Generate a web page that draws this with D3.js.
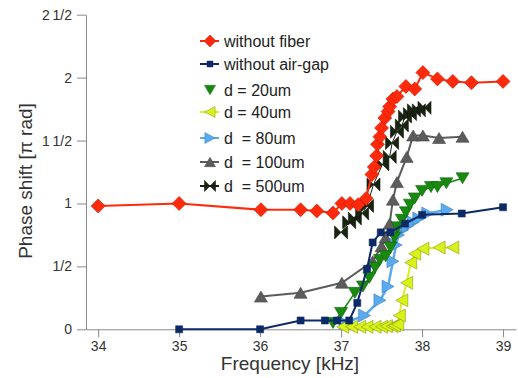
<!DOCTYPE html>
<html>
<head>
<meta charset="utf-8">
<script src="https://cdn.jsdelivr.net/npm/d3@7/dist/d3.min.js"></script>
<style>
  body { margin: 0; background: #fff; }
  svg { font-family: "Liberation Sans", Arial, sans-serif; }
  .axis path, .axis line { stroke: #8a8a8a; }
  .axis text { fill: #333; font-size: 14px; }
</style>
</head>
<body>
<div id="chart"></div>
<script>
// frequency [kHz], phase shift [pi rad]
const withoutFiber = [
  [34.00, 0.98], [35.00, 1.00], [36.01, 0.95], [36.50, 0.95], [36.70, 0.94], [36.90, 0.925],
  [37.01, 1.00], [37.11, 1.00], [37.21, 0.99], [37.31, 1.04], [37.38, 1.23], [37.41, 1.29],
  [37.44, 1.38], [37.45, 1.47], [37.48, 1.53], [37.50, 1.60], [37.54, 1.68], [37.58, 1.73],
  [37.60, 1.77], [37.64, 1.83], [37.69, 1.85], [37.80, 1.93], [37.91, 1.91], [38.01, 2.04],
  [38.19, 1.99], [38.38, 1.97], [38.61, 1.96], [39.00, 1.97]
];
const withoutAirGap = [
  [35.0, 0], [36.0, 0], [36.5, 0.07], [36.8, 0.07], [36.95, 0.07], [37.1, 0.07],
  [37.2, 0.21], [37.32, 0.48], [37.39, 0.69], [37.49, 0.77], [37.61, 0.77], [37.79, 0.84],
  [38.0, 0.91], [38.49, 0.92], [39.0, 0.97]
];
const d20 = [
  [36.90, 0.05], [37.00, 0.13], [37.17, 0.29], [37.27, 0.34], [37.35, 0.41], [37.42, 0.49],
  [37.48, 0.55], [37.55, 0.58], [37.61, 0.65], [37.66, 0.73], [37.70, 0.81], [37.75, 0.87],
  [37.80, 0.93], [37.85, 0.99], [37.91, 1.04], [38.00, 1.10], [38.11, 1.13], [38.19, 1.13],
  [38.30, 1.16], [38.50, 1.20]
];
const d40 = [
  [37.02, 0.02], [37.13, 0.02], [37.23, 0.02], [37.32, 0.02], [37.42, 0.02], [37.50, 0.02],
  [37.56, 0.025], [37.63, 0.025], [37.66, 0.03], [37.70, 0.04], [37.72, 0.11], [37.75, 0.23],
  [37.81, 0.37], [37.86, 0.53], [37.91, 0.60], [38.01, 0.64], [38.21, 0.65], [38.38, 0.65]
];
const d80 = [
  [37.05, 0.05], [37.29, 0.11], [37.48, 0.23], [37.58, 0.34], [37.64, 0.54], [37.68, 0.67],
  [37.71, 0.75], [37.76, 0.79], [37.82, 0.82], [37.89, 0.85], [37.96, 0.88], [38.07, 0.92],
  [38.31, 0.95]
];
const d100 = [
  [36.01, 0.26], [36.50, 0.29], [37.01, 0.37], [37.39, 0.54], [37.50, 0.66], [37.55, 0.73],
  [37.60, 0.84], [37.64, 1.03], [37.69, 1.17], [37.81, 1.37], [37.89, 1.54], [38.01, 1.54],
  [38.21, 1.52], [38.50, 1.53]
];
const d500 = [
  [37.00, 0.77], [37.10, 0.85], [37.17, 0.88], [37.26, 0.92], [37.32, 0.98], [37.40, 1.15],
  [37.51, 1.31], [37.60, 1.37], [37.63, 1.48], [37.69, 1.57], [37.75, 1.62], [37.79, 1.69],
  [37.85, 1.71], [37.90, 1.74], [37.96, 1.74], [38.03, 1.76]
];

const xTicks = [34, 35, 36, 37, 38, 39];
const yTicks = [0, 0.5, 1, 1.5, 2, 2.5];
const yTickLabels = ["0", "1/2", "1", "1\u20091/2", "2", "2\u20091/2"];

const seriesNames = ["without fiber", "without air-gap", "d = 20um", "d = 40um",
  "d  = 80um", "d  = 100um", "d  = 500um"];

// marker shapes
const shapes = {
  diamond: "M0,-7L7,0L0,7L-7,0Z",
  square: "M-3.5,-3.5H3.5V3.5H-3.5Z",
  down: "M-6.5,-5.5L6.5,-5.5L0,5.5Z",
  left: "M6,-6.5L6,6.5L-6,0Z",
  right: "M-6,-6.5L-6,6.5L6,0Z",
  up: "M-6.5,5.5L6.5,5.5L0,-5.5Z",
  bowtie: "M-6.5,-6.5L0,0L-6.5,6.5Z M6.5,-6.5L0,0L6.5,6.5Z"
};

const series = [
  { name: seriesNames[0], data: withoutFiber, color: "#ff2a0c", stroke: "#c81800", shape: "diamond", lw: 2, legendLine: true },
  { name: seriesNames[1], data: withoutAirGap, color: "#0c2a66", stroke: "#0c2a66", shape: "square", lw: 2, legendLine: true },
  { name: seriesNames[2], data: d20, color: "#188a10", stroke: "#10600a", shape: "down", lw: 1.5, legendLine: false },
  { name: seriesNames[3], data: d40, color: "#d8f21a", stroke: "#8a9a10", shape: "left", lw: 2, legendLine: true },
  { name: seriesNames[4], data: d80, color: "#5aaaee", stroke: "#3a80c0", shape: "right", lw: 2.5, legendLine: true },
  { name: seriesNames[5], data: d100, color: "#5c5c5c", stroke: "#444", shape: "up", lw: 2, legendLine: true },
  { name: seriesNames[6], data: d500, color: "#182410", stroke: "#0c1208", shape: "bowtie", lw: 1, legendLine: true }
];

const w = 518, h = 378;
const svg = d3.select("#chart").append("svg").attr("width", w).attr("height", h);

const xScale = d3.scaleLinear().domain([33.85, 39.16]).range([86, 516]);
const yScale = d3.scaleLinear().domain([0, 2.5]).range([329.3, 14.7]);

// axes
svg.append("g")
  .attr("class", "axis")
  .attr("transform", "translate(0," + yScale(0) + ")")
  .call(d3.axisBottom(xScale).tickValues(xTicks).tickSize(8).tickSizeOuter(0).tickPadding(4).tickFormat(d3.format("d")))
  .call(g => g.selectAll("text").attr("font-size", 15));

svg.append("g")
  .attr("class", "axis")
  .attr("transform", "translate(" + xScale(33.85) + ",0)")
  .call(d3.axisLeft(yScale).tickValues(yTicks).tickSize(9).tickSizeOuter(0).tickPadding(5)
    .tickFormat((d, i) => yTickLabels[i]))
  .call(g => g.selectAll("text").attr("font-size", 14));

svg.selectAll(".axis path").attr("stroke", "#8a8a8a");

// axis titles
svg.append("text")
  .attr("transform", "translate(32," + 181 + ") rotate(-90)")
  .attr("text-anchor", "middle")
  .attr("font-size", 19)
  .attr("fill", "#333")
  .text("Phase shift [\u03c0 rad]");

svg.append("text")
  .attr("x", 290)
  .attr("y", 370)
  .attr("text-anchor", "middle")
  .attr("font-size", 19)
  .attr("fill", "#333")
  .text("Frequency [kHz]");

// series, drawn last-to-first so the first series sits on top
const line = d3.line().x(d => xScale(d[0])).y(d => yScale(d[1]));

series.slice().reverse().forEach(s => {
  const g = svg.append("g");
  g.append("path")
    .datum(s.data)
    .attr("fill", "none")
    .attr("stroke", s.color)
    .attr("stroke-width", s.lw)
    .attr("d", line);
  g.selectAll("path.m")
    .data(s.data)
    .enter().append("path")
    .attr("class", "m")
    .attr("transform", d => "translate(" + xScale(d[0]) + "," + yScale(d[1]) + ")")
    .attr("d", shapes[s.shape])
    .attr("fill", s.color)
    .attr("stroke", s.stroke)
    .attr("stroke-width", 0.6);
});

// legend
const legendY = [41, 64, 90, 112, 138, 162, 186];
const legend = svg.append("g");
series.forEach((s, i) => {
  const row = legend.append("g").attr("transform", "translate(0," + legendY[i] + ")");
  if (s.legendLine) {
    row.append("line")
      .attr("x1", 200).attr("x2", 219)
      .attr("stroke", s.color).attr("stroke-width", 2);
  }
  row.append("path")
    .attr("transform", "translate(210,0) scale(0.85)")
    .attr("d", shapes[s.shape])
    .attr("fill", s.color)
    .attr("stroke", s.stroke)
    .attr("stroke-width", 0.6);
  row.append("text")
    .attr("x", 224)
    .attr("y", 5.5)
    .attr("font-size", 16)
    .attr("fill", "#222")
    .attr("xml:space", "preserve")
    .style("white-space", "pre")
    .text(s.name);
});
</script>
</body>
</html>
